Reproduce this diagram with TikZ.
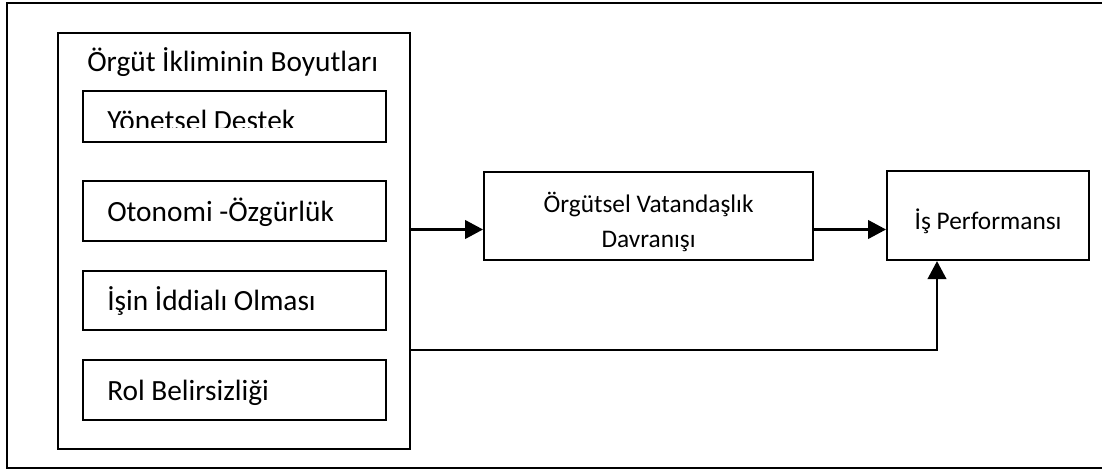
\documentclass[tikz,border=0pt]{standalone}
\usepackage{fontspec}
\setmainfont{Carlito}
\usetikzlibrary{arrows.meta}
\begin{document}
\begin{tikzpicture}[x=0.75pt,y=-0.75pt,
  frame/.style={draw=black,line width=1.6pt,fill=none},
  box/.style={draw=black,line width=1.6pt,rectangle,inner sep=0pt},
  lbl/.style={inner sep=0pt,anchor=base west,font=\fontsize{22}{26}\selectfont},
  clbl/.style={inner sep=0pt,align=center,font=\fontsize{19}{26.5}\selectfont},
  link/.style={line width=1.6pt,-{Triangle[length=13.5pt,width=14pt]}},
]
\useasboundingbox (0,0) rectangle (1102,470);
% outer frame, running past the right margin
\draw[frame] (7,3) rectangle (1110,468);

% group of climate dimensions
\node[box,anchor=north west,minimum width=264pt,minimum height=312pt] (grp) at (57,32) {};
\node[lbl] (title) at (87,71.7) {Örgüt İkliminin Boyutları};

\node[box,anchor=north west,minimum width=227.25pt,minimum height=38.25pt] (d1) at (82,90) {};
\begin{scope}
  \clip (82,90) rectangle (385,127.7);
  \node[lbl] (t1) at (107,130.5) {Yönetsel Destek};
\end{scope}

\node[box,anchor=north west,minimum width=227.25pt,minimum height=45pt] (d2) at (82,180) {};
\node[lbl] (t2) at (107,221.7) {Otonomi -Özgürlük};

\node[box,anchor=north west,minimum width=227.25pt,minimum height=44.25pt] (d3) at (82,270) {};
\node[lbl] (t3) at (107,310) {İşin İddialı Olması};

\node[box,anchor=north west,minimum width=227.25pt,minimum height=45pt] (d4) at (82,359) {};
\node[lbl] (t4) at (107,400) {Rol Belirsizliği};

% mediator and outcome
\node[box,anchor=north west,minimum width=246.75pt,minimum height=66pt] (ovd) at (483,171) {};
\node[clbl] (ovdt) at ([yshift=-4.5pt]ovd.center) {Örgütsel Vatandaşlık\\Davranışı};
\node[box,anchor=north west,minimum width=151.5pt,minimum height=66.75pt] (ip) at (886,170) {};
\node[clbl] (ipt) at ([yshift=-4pt]ip.center) {İş Performansı};

% connectors
\coordinate (r1) at (0,229.5);
\coordinate (r2) at (0,350);
\coordinate (up) at (937,0);
\draw[link] (grp.east |- r1) -- (ovd.west |- r1);
\draw[link] (ovd.east |- r1) -- (ip.west |- r1);
\draw[link] (grp.east |- r2) -- (up |- r2) -- (up |- ip.south);
\end{tikzpicture}
\end{document}
